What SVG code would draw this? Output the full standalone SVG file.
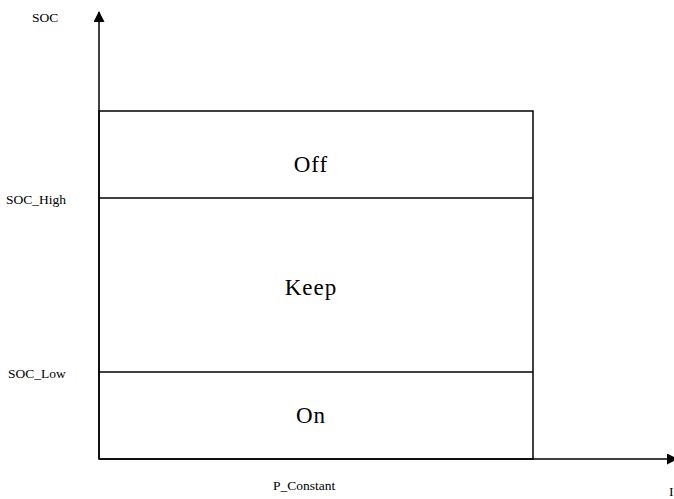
<svg xmlns="http://www.w3.org/2000/svg" width="674" height="499" viewBox="0 0 674 499">
  <style>
    .lbl { font-family: "Liberation Serif", serif; font-size: 13.5px; fill: #000; }
    .state { font-family: "Liberation Serif", serif; font-size: 23px; fill: #000; letter-spacing: 1px; text-anchor: middle; }
    .ln { stroke: #000; stroke-width: 1.5; fill: none; }
  </style>
  <defs>
    <marker id="arr" markerWidth="11" markerHeight="11" refX="10" refY="5.5" orient="auto" markerUnits="userSpaceOnUse">
      <path d="M0,0 L11,5.5 L0,11 Z" fill="#000"/>
    </marker>
  </defs>
  <rect width="674" height="499" fill="#fff"/>
  <g id="connectors">
    <line class="ln" x1="99" y1="459" x2="99" y2="12" marker-end="url(#arr)"/>
    <line class="ln" x1="99" y1="459" x2="677" y2="459" marker-end="url(#arr)"/>
  </g>
  <g id="zones">
    <rect class="ln" x="99" y="111" width="434" height="348"/>
    <line class="ln" x1="99" y1="198" x2="533" y2="198"/>
    <line class="ln" x1="99" y1="372" x2="533" y2="372"/>
  </g>
  <g id="off"><text class="state" x="311" y="172">Off</text></g>
  <g id="keep"><text class="state" x="311" y="295">Keep</text></g>
  <g id="on"><text class="state" x="311" y="423">On</text></g>
  <g id="labels">
    <text class="lbl" x="32" y="22">SOC</text>
    <text class="lbl" x="6" y="204">SOC_High</text>
    <text class="lbl" x="8" y="378">SOC_Low</text>
    <text class="lbl" x="273" y="490">P_Constant</text>
    <text class="lbl" x="669" y="496">I</text>
  </g>
</svg>
